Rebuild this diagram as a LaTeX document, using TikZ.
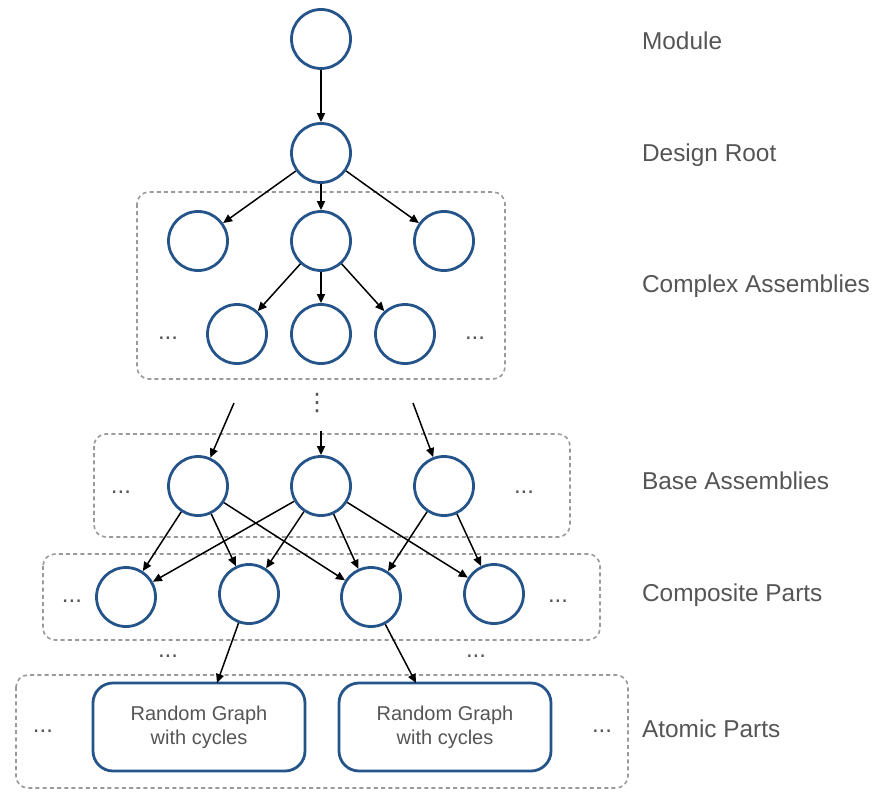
\documentclass[tikz,border=0pt]{standalone}
\usepackage{fontspec}
\setmainfont{Liberation Sans}
\newfontfamily\symfont{DejaVu Sans}
\usetikzlibrary{arrows.meta}
\definecolor{nodeblue}{HTML}{24548A}
\definecolor{labelgray}{HTML}{555555}
\definecolor{boxgray}{HTML}{9A9A9A}

\begin{document}
\begin{tikzpicture}[x=0.5pt, y=-0.5pt]
\tikzstyle{vertex}=[circle, draw=nodeblue, line width=1.4pt, minimum size=29.5pt, inner sep=0pt]
\tikzstyle{graphbox}=[rectangle, draw=nodeblue, line width=1.4pt, rounded corners=10pt, minimum width=106pt, minimum height=44pt, align=center, text=labelgray, font=\fontsize{10}{12}\selectfont]
\tikzstyle{group}=[draw=boxgray, line width=0.8pt, dash pattern=on 2pt off 1.6pt, rounded corners=6pt]
\tikzstyle{layer}=[anchor=west, text=labelgray, font=\fontsize{12.2}{14}\selectfont]
\tikzstyle{more}=[text=labelgray, font=\fontsize{12}{14}\selectfont]
\tikzstyle{link}=[-{Triangle[length=4.5pt, width=4pt]}, line width=0.75pt]
\useasboundingbox (0,0) rectangle (882,802);

% dashed groups
\draw[group] (137,192) rectangle (505,379);
\draw[group] (94,434) rectangle (570,537);
\draw[group] (43,554) rectangle (600,640);
\draw[group] (16,675) rectangle (628,788);

% module and root
\node[vertex] (mod) at (321,39) {};
\node[vertex] (root) at (321,153) {};

% complex assemblies
\node[vertex] (ca1) at (198,241) {};
\node[vertex] (ca2) at (321,241) {};
\node[vertex] (ca3) at (444,241) {};
\node[vertex] (cb1) at (237,334) {};
\node[vertex] (cb2) at (321,334) {};
\node[vertex] (cb3) at (405,334) {};
\node[more] (cdl) at (168,338) {...};
\node[more] (cdr) at (475,338) {...};
\node[more, inner sep=0pt] (vd) at (317,403) {\symfont ⋮};

% base assemblies
\coordinate (inl) at (234,403);
\coordinate (inm) at (321,431);
\coordinate (inr) at (413,403);
\node[vertex] (b1) at (198,486) {};
\node[vertex] (b2) at (321,486) {};
\node[vertex] (b3) at (444,486) {};
\node[more] (bdl) at (121,492) {...};
\node[more] (bdr) at (524,492) {...};

% composite parts
\node[vertex] (p1) at (126,597) {};
\node[vertex] (p2) at (249,594) {};
\node[vertex] (p3) at (371,597) {};
\node[vertex] (p4) at (494,594) {};
\node[more] (pdl) at (72,601) {...};
\node[more] (pdr) at (558,601) {...};
\node[more] (gdl) at (168,656) {...};
\node[more] (gdr) at (476,656) {...};

% atomic parts
\node[graphbox] (ga) at (199,727) {Random Graph\\with cycles};
\node[graphbox] (gb) at (445,727) {Random Graph\\with cycles};
\node[more] (adl) at (43,731) {...};
\node[more] (adr) at (602,731) {...};
\coordinate (ina) at (217,683);
\coordinate (inb) at (416,683);

\path[link]
(mod) edge (root)
(root) edge (ca1)
    edge (ca2)
    edge (ca3)
(ca2) edge (cb1)
    edge (cb2)
    edge (cb3)
(inl) edge (b1)
(inm) edge (b2)
(inr) edge (b3)
(b1) edge (p1)
    edge (p2)
    edge (p3)
(b2) edge (p1)
    edge (p2)
    edge (p3)
    edge (p4)
(b3) edge (p3)
    edge (p4)
(p2) edge (ina)
(p3) edge (inb);

% layer names
\node[layer] (lmod) at (635,41) {Module};
\node[layer] (lroot) at (635,155) {Design Root};
\node[layer] (lcomplex) at (635,286) {Complex Assemblies};
\node[layer] (lbase) at (635,481) {Base Assemblies};
\node[layer] (lcomp) at (635,595) {Composite Parts};
\node[layer] (latom) at (635,729) {Atomic Parts};

\end{tikzpicture}
\end{document}
